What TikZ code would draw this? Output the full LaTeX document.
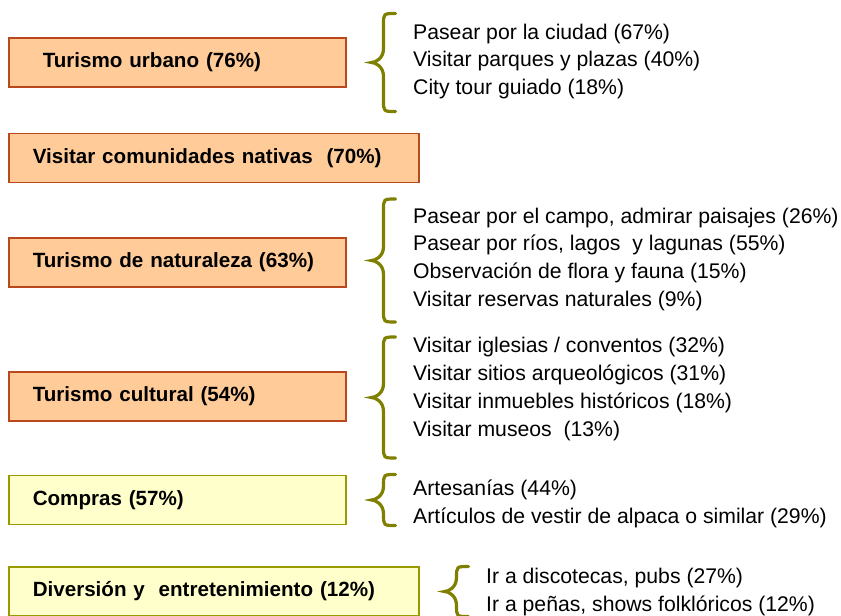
\documentclass[tikz,border=0pt]{standalone}
\usepackage{fontspec}
\setmainfont{Liberation Sans}
\usetikzlibrary{positioning,calc}
\definecolor{fondonar}{RGB}{255,204,153}
\definecolor{bordenar}{RGB}{185,72,28}
\definecolor{fondoama}{RGB}{255,255,204}
\definecolor{bordeama}{RGB}{153,153,0}
\definecolor{oliva}{RGB}{128,128,0}

\begin{document}
\begin{tikzpicture}[x=1pt, y=-1pt,
      caja/.style={line width=1.5pt, anchor=west, inner xsep=24pt, inner ysep=0pt,
        minimum height=49pt, align=left, font=\bfseries\fontsize{20.6}{25}\selectfont},
      nar/.style={caja, draw=bordenar, fill=fondonar},
      ama/.style={caja, draw=bordeama, fill=fondoama},
      item/.style={anchor=base west, inner sep=0pt, font=\fontsize{21.2}{25}\selectfont},
      trazollave/.style={draw=oliva, line width=3.2pt, line cap=round},
      pics/llave/.style={code={
          \draw[trazollave] (24,-#1) .. controls (12,-#1) .. (12,{-#1+11})
            -- (12,-14) .. controls (12,-4) and (4,0) .. (0,0)
            .. controls (4,0) and (12,4) .. (12,14)
            -- (12,{#1-11}) .. controls (12,#1) .. (24,#1);
        }}]
      \useasboundingbox (0,0) rectangle (841,616);
      % categorias
      \node[nar, text width=289pt] (urbano) at (8,62.5) {\hspace*{10pt}Turismo urbano (76\%)};
      \node[nar, text width=362pt] (nativas) at (8,158) {Visitar comunidades nativas~ (70\%)};
      \node[nar, text width=289pt] (natur) at (8,262.5) {Turismo de naturaleza (63\%)};
      \node[nar, text width=289pt] (cultur) at (8,396.5) {Turismo cultural (54\%)};
      \node[ama, text width=289pt] (compras) at (8,500) {Compras (57\%)};
      \node[ama, text width=362pt] (divers) at (8,591.5) {Diversión y~ entretenimiento (12\%)};
      % llaves
      \pic at ($(urbano.east)+(25,0)$) {llave=49};
      \pic at ($(natur.east)+(25,-2)$) {llave=61.5};
      \pic at ($(cultur.east)+(25,1)$) {llave=60.5};
      \pic at ($(compras.east)+(25,0)$) {llave=25.5};
      \pic at ($(divers.east)+(25,0)$) {llave=25};
      % actividades
      \foreach \t [count=\i] in {Pasear por la ciudad (67\%), Visitar parques y plazas (40\%),
          City tour guiado (18\%)}
        \node[item] (urb-\i) at (413,{39+27.5*(\i-1)}) {\t};
      \foreach \t [count=\i] in {{Pasear por el campo, admirar paisajes (26\%)},
          {Pasear por ríos, lagos~ y lagunas (55\%)}, Observación de flora y fauna (15\%),
          Visitar reservas naturales (9\%)}
        \node[item] (nat-\i) at (413,{223+27.8*(\i-1)}) {\t};
      \foreach \t [count=\i] in {Visitar iglesias / conventos (32\%), Visitar sitios arqueológicos (31\%),
          Visitar inmuebles históricos (18\%), Visitar museos~ (13\%)}
        \node[item] (cul-\i) at (413,{352+28*(\i-1)}) {\t};
      \foreach \t [count=\i] in {Artesanías (44\%), Artículos de vestir de alpaca o similar (29\%)}
        \node[item] (com-\i) at (413,{495.5+27.5*(\i-1)}) {\t};
      \foreach \t [count=\i] in {{Ir a discotecas, pubs (27\%)}, {Ir a peñas, shows folklóricos (12\%)}}
        \node[item] (div-\i) at (486,{583+28.5*(\i-1)}) {\t};
    \end{tikzpicture}
\end{document}
